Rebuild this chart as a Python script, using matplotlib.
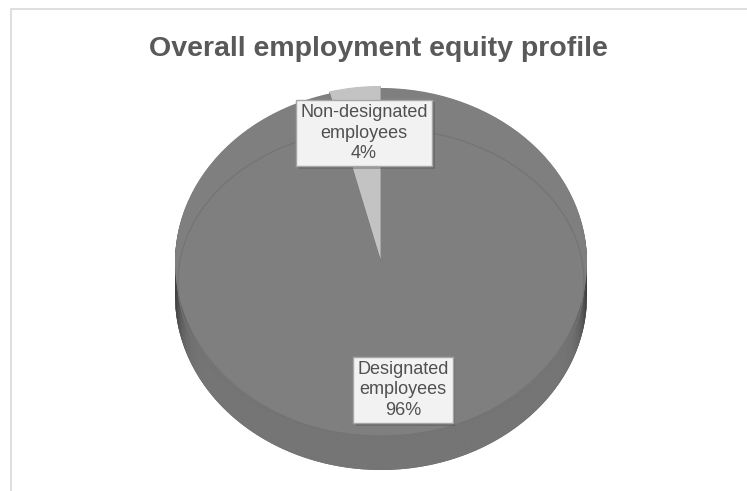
#### Perfil geral de equidade no emprego - pizza em "3D" ####

import matplotlib.pyplot as plt
import matplotlib.patheffects as pe
from matplotlib.patches import PathPatch, Ellipse, Rectangle
from matplotlib.path import Path
import numpy as np

# Dados
categorias = ['Designated\nemployees', 'Non-designated\nemployees']
percentuais = [96, 4]
titulo = 'Overall employment equity profile'

# Cores
cor_topo = ['#7f7f7f', '#c3c3c3']
cor_lado = ['#6f6f6f', '#686868']
cor_texto = '#505050'

W, H = 747, 491
fig = plt.figure(figsize=(W / 100, H / 100), dpi=100)
fig.patch.set_facecolor('white')

# borda da area do grafico
fig.patches.append(Rectangle((11 / W, -0.1), 1.2, (H - 9) / H + 0.1, transform=fig.transFigure,
                             facecolor='none', edgecolor='#d9d9d9', linewidth=1.2))

ax = fig.add_axes([0, 0, 1, 1])

# elipse do topo: centro (381, 262) px, raios 206 x 174 px
cx, cy, rx, ry = 381, 262, 206, 174
prof = 34 / ry  # espessura do disco
explode = [0, 0.012]

# laterais: varias camadas empilhadas de baixo para cima
for d in np.linspace(prof, 0, 60)[:-1]:
    ax.pie(percentuais, colors=cor_lado, startangle=90, counterclock=False,
           explode=explode, center=(0, -d), wedgeprops=dict(linewidth=0))

# sombreamento da faixa lateral da frente
xs = np.linspace(-1, 1, 400)
sup = -np.sqrt(1 - xs ** 2)
verts = np.concatenate([np.column_stack([xs, sup]), np.column_stack([xs[::-1], sup[::-1] - prof])])
faixa = PathPatch(Path(verts), facecolor='none', edgecolor='none')
ax.add_patch(faixa)
gx = np.linspace(-1, 1, 600)
tom = 0.46 - 0.22 * np.abs(gx) ** 30
img = ax.imshow(np.tile(tom, (10, 1)), cmap='gray', vmin=0, vmax=1, aspect='auto',
                extent=[-1, 1, -1 - prof, 0], interpolation='bilinear', zorder=1.5)
img.set_clip_path(faixa)

# topo
wedges, _ = ax.pie(percentuais, colors=cor_topo, startangle=90, counterclock=False,
                   explode=explode, wedgeprops=dict(linewidth=0))
for w in wedges:
    w.set_zorder(2)
wedges[1].set_zorder(3)

# linha fina do brilho da borda
ax.add_patch(Ellipse((0, (cy - 282) / ry), 2 * 203 / rx, 2 * 154 / ry, facecolor='none',
                     edgecolor='#737373', linewidth=0.8, zorder=2.5))

ax.set_aspect('auto')
ax.set_xlim(-cx / rx, (W - cx) / rx)
ax.set_ylim((cy - H) / ry, cy / ry)
ax.axis('off')

# rotulos
pos_rotulos = [((403 - cx) / rx, (cy - 390) / ry), ((364 - cx) / rx, (cy - 133) / ry)]
for nome, p, (lx, ly) in zip(categorias, percentuais, pos_rotulos):
    t = ax.text(lx, ly, f'{nome}\n{p}%', ha='center', va='center', color=cor_texto,
                fontsize=13, family='Liberation Sans', linespacing=1.3, zorder=5,
                bbox=dict(boxstyle='square,pad=0.22', facecolor='#f2f2f2', edgecolor='#a6a6a6', linewidth=1))
    t.get_bbox_patch().set_path_effects([pe.SimplePatchShadow(offset=(2, -2), alpha=0.35), pe.Normal()])

fig.text(378 / W, 1 - 49 / H, titulo, ha='center', va='center', fontsize=20.5, fontweight='bold',
         color='#595959', family='Liberation Sans')

plt.savefig('out.png', dpi=100)
